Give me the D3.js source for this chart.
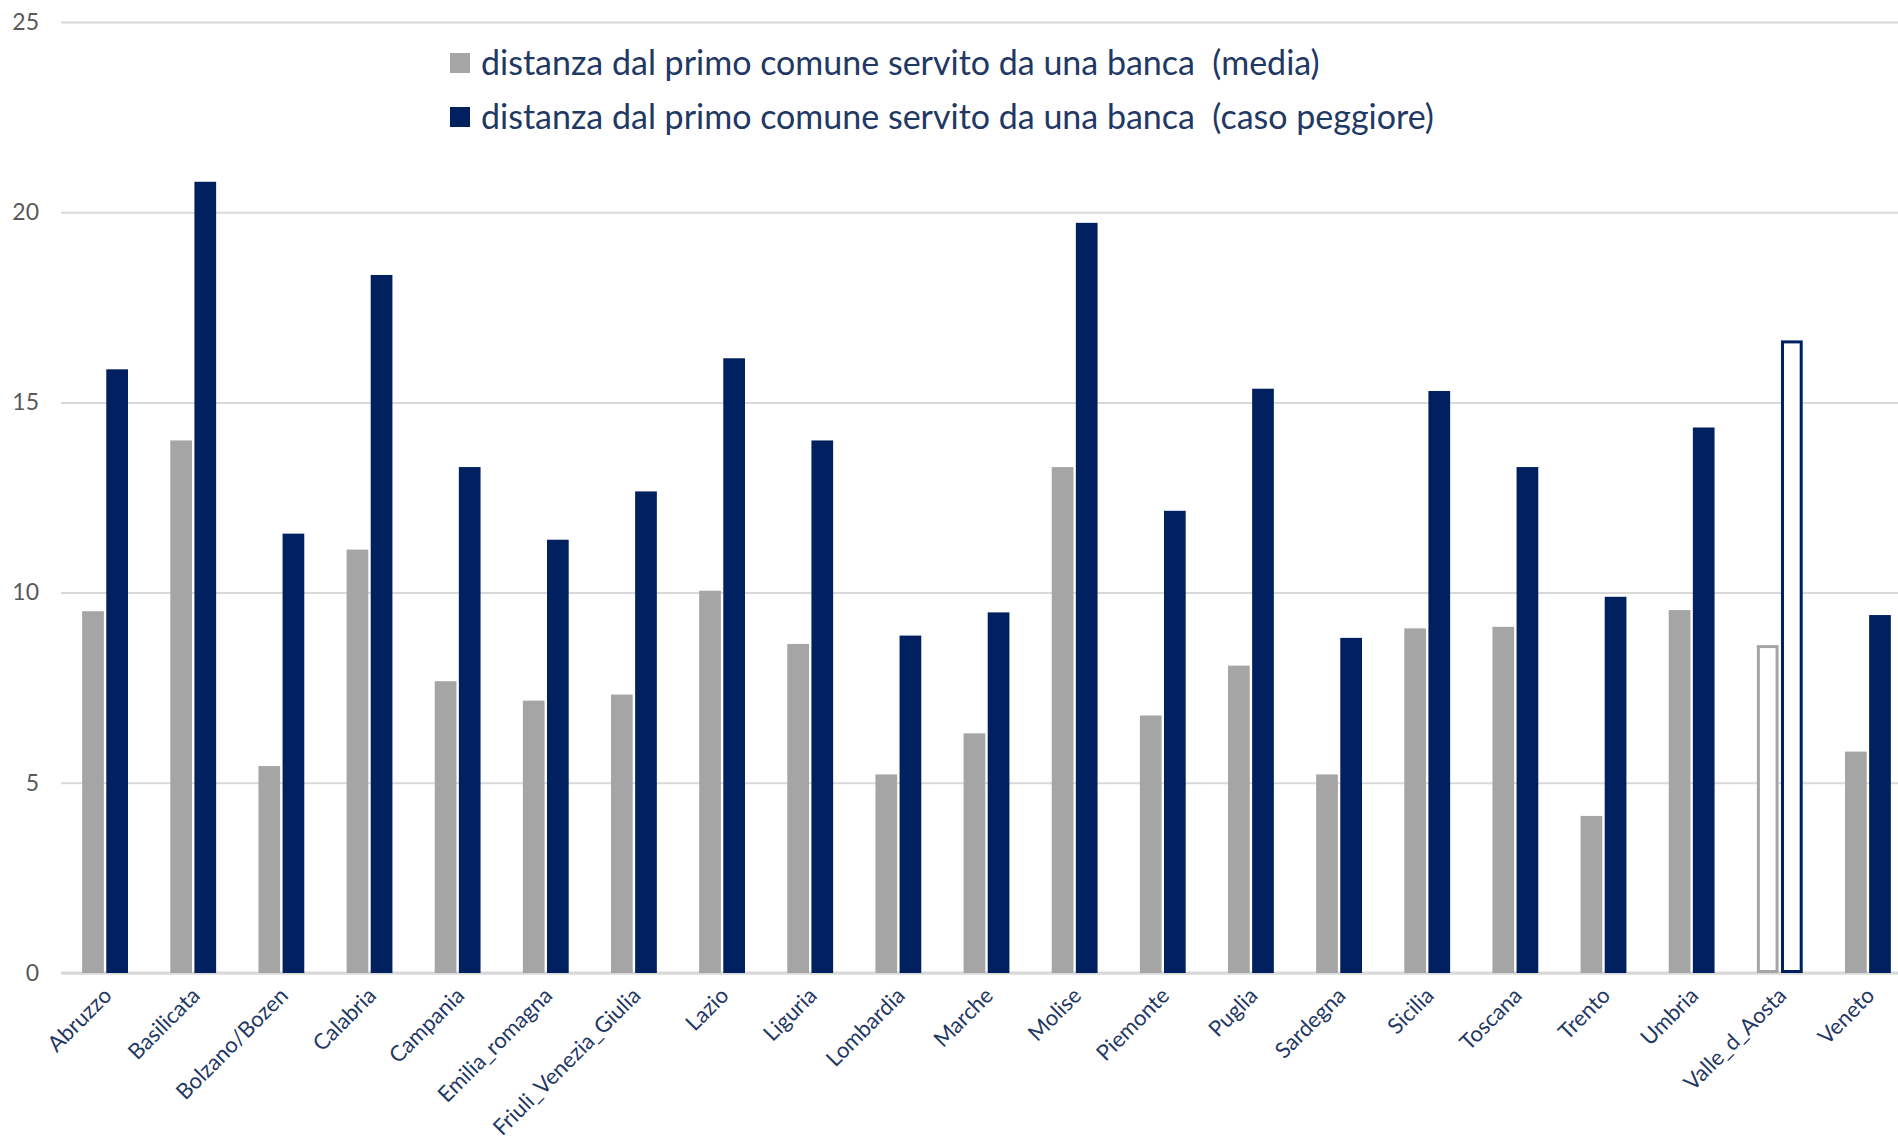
<!DOCTYPE html>
<html>
<head>
<meta charset="utf-8">
<script src="https://cdn.jsdelivr.net/npm/d3@7"></script>
<style>
  body { margin: 0; background: #fff; }
  text { font-family: Lato, "Open Sans", sans-serif; }
</style>
</head>
<body>
<div id="chart"></div>
<script>
// regions and values
const regions = ["Abruzzo", "Basilicata", "Bolzano/Bozen", "Calabria", "Campania", "Emilia_romagna",
  "Friuli_Venezia_Giulia", "Lazio", "Liguria", "Lombardia", "Marche", "Molise", "Piemonte", "Puglia",
  "Sardegna", "Sicilia", "Toscana", "Trento", "Umbria", "Valle_d_Aosta", "Veneto"];
const media = [9.51, 14.0, 5.44, 11.13, 7.67, 7.16, 7.32, 10.05, 8.65, 5.22, 6.3, 13.3, 6.77, 8.08,
  5.22, 9.06, 9.1, 4.13, 9.54, 8.62, 5.82];
const peggiore = [15.87, 20.8, 11.55, 18.35, 13.3, 11.39, 12.66, 16.16, 14.0, 8.87, 9.48, 19.72, 12.15,
  15.36, 8.81, 15.3, 13.3, 9.89, 14.34, 16.63, 9.41];
const seriesNames = ["distanza dal primo comune servito da una banca  (media)",
  "distanza dal primo comune servito da una banca  (caso peggiore)"];
const yTicks = [0, 5, 10, 15, 20, 25];
const hollow = ["Valle_d_Aosta"];

const W = 1898, H = 1143;
const colors = ["#a5a5a5", "#002060"];
const labelColor = "#1f3864";

const svg = d3.select("#chart").append("svg")
    .attr("width", W).attr("height", H);

const x0 = d3.scaleBand()
    .domain(regions)
    .range([61, 1912])
    .paddingInner(0.48)
    .paddingOuter(0.24);

const x1 = d3.scaleBand()
    .domain([0, 1])
    .range([0, x0.bandwidth()])
    .paddingInner(0.1);

const y = d3.scaleLinear()
    .domain([0, 25])
    .range([973, 22]);

// gridlines + y labels
const yAxis = svg.append("g")
    .attr("transform", "translate(61,0)")
    .call(d3.axisLeft(y).tickValues(yTicks).tickSize(-(W - 61)).tickPadding(22));
yAxis.select(".domain").remove();
yAxis.selectAll("line").attr("stroke", "#d9d9d9").attr("stroke-width", 2);
yAxis.selectAll("text")
    .attr("fill", "#595959")
    .style("font-size", "23px");

// baseline
svg.append("line")
    .attr("x1", 61).attr("x2", W)
    .attr("y1", y(0)).attr("y2", y(0))
    .attr("stroke", "#d9d9d9").attr("stroke-width", 3);

// bars
const rows = regions.map((r, i) => ({region: r, vals: [media[i], peggiore[i]]}));
const groups = svg.append("g").selectAll("g")
    .data(rows)
    .enter().append("g")
    .attr("transform", d => `translate(${x0(d.region)},0)`);

groups.selectAll("rect")
    .data(d => d.vals.map((v, k) => ({k, v, hollow: hollow.includes(d.region)})))
    .enter().append("rect")
    .attr("x", d => x1(d.k) + (d.hollow ? 1.5 : 0))
    .attr("y", d => y(d.v) + (d.hollow ? 1.5 : 0))
    .attr("width", d => x1.bandwidth() - (d.hollow ? 3 : 0))
    .attr("height", d => y(0) - y(d.v) - (d.hollow ? 3 : 0))
    .attr("fill", d => d.hollow ? "#fff" : colors[d.k])
    .attr("stroke", d => d.hollow ? colors[d.k] : "none")
    .attr("stroke-width", 3);

// category labels
svg.append("g").selectAll("text")
    .data(regions)
    .enter().append("text")
    .attr("transform", d => `translate(${x0(d) + x0.bandwidth() / 2 + 8},${y(0) + 24}) rotate(-45)`)
    .attr("text-anchor", "end")
    .attr("fill", labelColor)
    .style("font-size", "22px")
    .text(d => d);

// legend
const legend = svg.append("g").selectAll("g")
    .data(seriesNames)
    .enter().append("g")
    .attr("transform", (d, i) => `translate(450,${63 + i * 54})`);
legend.append("rect")
    .attr("x", 0).attr("y", -10)
    .attr("width", 20).attr("height", 20)
    .attr("fill", (d, i) => colors[i]);
legend.append("text")
    .attr("x", 31).attr("y", 0)
    .attr("dy", "0.35em")
    .attr("fill", labelColor)
    .style("font-size", "34px")
    .style("white-space", "pre")
    .text(d => d);
</script>
</body>
</html>
